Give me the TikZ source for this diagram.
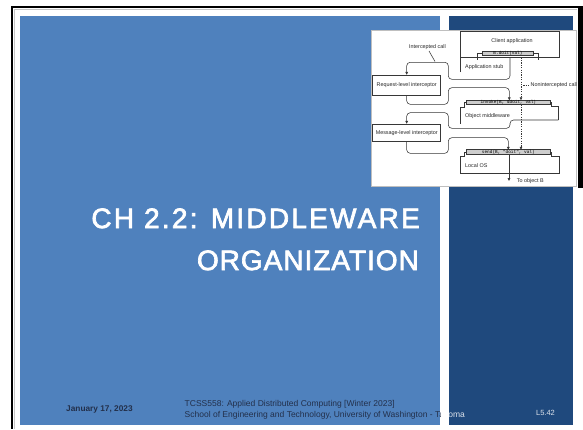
\documentclass[tikz,border=0pt]{standalone}
\usepackage{fontspec}
\setmainfont{Liberation Sans}
\setmonofont{Liberation Mono}
\newfontfamily\titlefontA[LetterSpace=8]{Liberation Sans}
\newfontfamily\titlefontB[LetterSpace=3.5]{Liberation Sans}
\newcommand{\heavytext}[1]{\special{pdf:literal direct q 1 1 1 RG 0.7 w 2 Tr}#1\special{pdf:literal direct 0 Tr Q}}
\usetikzlibrary{arrows.meta}
\definecolor{slideblue}{RGB}{79,129,189}
\definecolor{slidenavy}{RGB}{31,73,125}
\definecolor{foottext}{RGB}{35,48,75}
\definecolor{footlight}{RGB}{220,226,235}
\definecolor{figline}{RGB}{55,55,55}
\definecolor{barfill}{RGB}{205,205,205}
\begin{document}
\begin{tikzpicture}[x=1pt,y=-1pt,
  figl/.style={draw=figline,line width=0.55pt},
  arr/.style={-{Triangle[length=2.8pt,width=2.6pt]}},
  dsh/.style={dash pattern=on 1.2pt off 1.2pt},
  ibox/.style={draw=figline,line width=0.55pt,fill=white,minimum width=68pt,minimum height=20.5pt,inner sep=0pt,font=\fontsize{5.4}{6}\selectfont,text=black!85},
  bar/.style={draw=figline,line width=0.45pt,fill=barfill,inner sep=0pt,font=\ttfamily\fontsize{4.4}{5}\selectfont,minimum height=4.4pt},
  lbl/.style={inner sep=0pt,font=\fontsize{5.4}{6}\selectfont,text=black!85},
  foot/.style={anchor=base west,inner sep=0pt,font=\fontsize{8.5}{10}\selectfont,text=foottext},
  titl/.style={anchor=base east,inner sep=0pt,text=white}
]
\fill[white] (0,0) rectangle (583,429);
\useasboundingbox (0,0) rectangle (583,429);
% frame
\fill[black] (11,6) rectangle (583,8);
\fill[black] (11,6) rectangle (13,429);
\fill[black] (578,6) rectangle (583,188);
\draw[gray!45,line width=0.6pt] (13.8,9.5) -- (577,9.5);
\draw[gray!45,line width=0.6pt] (13.8,9.5) -- (13.8,429);
% panels
\fill[slideblue] (20,16) rectangle (440,425);
\fill[slidenavy] (449,16) rectangle (573,425);
% title
\node[titl,font=\titlefontA\fontsize{28}{32}\selectfont] (t1) at (420,228) {\heavytext{CH 2.2: MIDDLEWARE}};
\node[titl,font=\titlefontB\fontsize{28}{32}\selectfont] (t2) at (419,270) {\heavytext{ORGANIZATION}};
% footer
\node[foot,font=\bfseries\fontsize{8.3}{10}\selectfont] (date) at (66,411.5) {January 17, 2023};
\node[foot] (course) at (184.5,406.5) {TCSS558: Applied Distributed Computing [Winter 2023]};
\begin{scope}
\clip (0,380) rectangle (440,429);
\node[foot] (school) at (184.5,417) {School of Engineering and Technology, University of Washington - Tacoma};
\end{scope}
\begin{scope}
\clip (449,380) rectangle (583,429);
\node[foot,text=footlight] (schoolb) at (184.5,417) {School of Engineering and Technology, University of Washington - Tacoma};
\end{scope}
\node[inner sep=0pt,font=\fontsize{7.5}{9}\selectfont,text=footlight] (page) at (545.5,413) {L5.42};
% inset figure
\fill[white] (371,30) rectangle (577,186);
\draw[gray!50,line width=0.5pt] (371,30) rectangle (576.5,186);
\begin{scope}
\clip (371,30) rectangle (576.5,186);
% client application + stub
\draw[figl] (460.7,72) -- (460.7,31) -- (559.3,31) -- (559.3,57.3) -- (460.7,57.3);
\node[lbl] (client) at (512,41) {Client application};
\node[bar,minimum width=50.6pt] (bdoit) at (508,53) {B.doit(val)};
\draw[figl] (bdoit.west) -- (477.3,53) -- (477.3,60);
\draw[figl] (bdoit.east) -- (538.3,53) -- (538.3,60);
\node[lbl,anchor=west] (stub) at (465,66.7) {Application stub};
% interceptors
\node[ibox] (req) at (406.7,85.3) {Request-level interceptor};
\node[ibox,minimum height=17.5pt] (msg) at (406.7,132.75) {Message-level interceptor};
\node[lbl] (icall) at (427.5,46.7) {Intercepted call};
\draw[figl] (429,51) -- (435,61.5);
% object middleware
\node[bar,minimum width=83.3pt] (invoke) at (508.35,102.4) {invoke(B, \&doit, val)};
\draw[figl] (invoke.west) -- (464.3,102.4) -- (464.3,107) -- (460.7,107) -- (460.7,124);
\draw[figl] (invoke.east) -- (551.7,102.4) -- (551.7,106) -- (558.3,106) -- (558.3,120);
\node[lbl,anchor=west] (objmw) at (465,116.5) {Object middleware};
% local OS
\node[bar,minimum width=83.3pt] (send) at (508.35,151.9) {send(B, "doit", val)};
\draw[figl] (send.west) -- (464.3,151.9) -- (464.3,156) -- (460.7,156) -- (460.7,173.3) -- (559.3,173.3) -- (559.3,156) -- (551.7,156) -- (551.7,151.9) -- (send.east);
\node[lbl,anchor=west] (los) at (465,166) {Local OS};
% channels
\draw[figl,arr,rounded corners=3.5pt] (510,57.3) -- (510,79.3) -- (448.3,79.3) -- (448.3,62.3) -- (406.7,62.3) -- (req.north);
\draw[figl,arr,rounded corners=3.5pt] (req.south) -- (406.7,104.3) -- (448.3,104.3) -- (448.3,87.7) -- (509.3,87.7) -- (509.3,100.2);
\draw[figl,arr,rounded corners=3.5pt] (558.3,120) -- (510,120) -- (510,128.3) -- (448.3,128.3) -- (448.3,112.7) -- (406.7,112.7) -- (msg.north);
\draw[figl,arr,rounded corners=3.5pt] (msg.south) -- (406.7,153.3) -- (448.3,153.3) -- (448.3,137.7) -- (508.3,137.7) -- (508.3,149.7);
% non-intercepted
\draw[figl,arr,dsh] (521,55.2) -- (521,100.2);
\draw[figl,arr,dsh] (521,104.6) -- (521,149.7);
\draw[figl,dsh] (523.3,85) -- (529.3,85);
\node[lbl,anchor=west] (nonint) at (530.5,85) {Nonintercepted call};
% to object B
\coordinate (objB) at (509,181);
\draw[figl,arr] (509,154.1) -- (objB);
\node[lbl,anchor=west] (toB) at (516.7,180.8) {To object B};
\end{scope}
\end{tikzpicture}
\end{document}
